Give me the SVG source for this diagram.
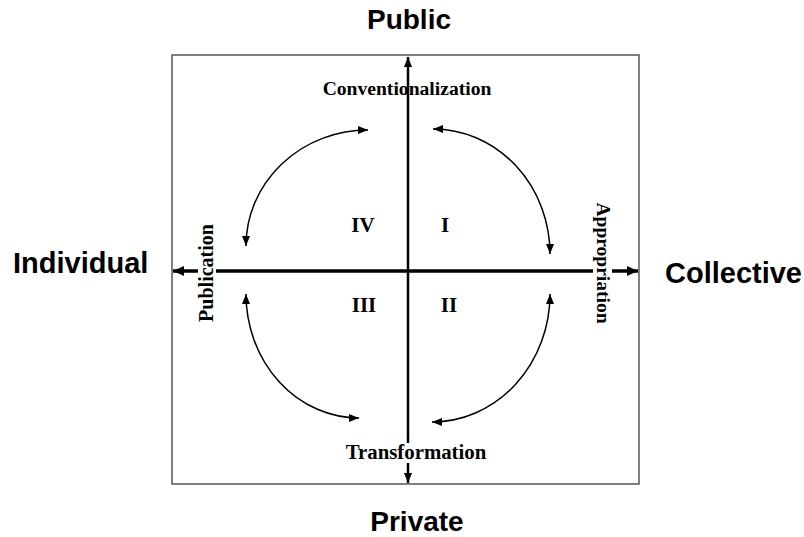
<svg xmlns="http://www.w3.org/2000/svg" width="804" height="537" viewBox="0 0 804 537">
  <style>
    .title { font-family: "Liberation Sans", Arial, sans-serif; font-weight: bold; fill: #000; }
    .lbl { font-family: "Liberation Serif", "Times New Roman", serif; font-weight: bold; fill: #000; }
    .axis { stroke: #000; fill: none; }
    .arc { stroke: #000; stroke-width: 1.5; fill: none; marker-start: url(#sm); marker-end: url(#sm); }
  </style>
  <defs>
    <marker id="sm" markerUnits="userSpaceOnUse" markerWidth="10" markerHeight="8" viewBox="0 0 10 8" refX="10" refY="4" orient="auto-start-reverse">
      <path d="M0,0 L10,4 L0,8 Z" fill="#000"/>
    </marker>
    <marker id="hv" markerUnits="userSpaceOnUse" markerWidth="11" markerHeight="10" viewBox="0 0 11 10" refX="11" refY="5" orient="auto">
      <path d="M0,0 L11,5 L0,10 Z" fill="#000"/>
    </marker>
    <marker id="vv" markerUnits="userSpaceOnUse" markerWidth="10" markerHeight="8" viewBox="0 0 10 8" refX="10" refY="4" orient="auto">
      <path d="M0,0 L10,4 L0,8 Z" fill="#000"/>
    </marker>
  </defs>
  <rect width="804" height="537" fill="#fff"/>

  <g id="frame">
    <rect x="172" y="55" width="467" height="429" fill="none" stroke="#555" stroke-width="1.5"/>
  </g>

  <g id="connectors">
    <!-- vertical axis -->
    <path class="axis" stroke-width="2.5" d="M408,443 L408,57" marker-end="url(#vv)"/>
    <path class="axis" stroke-width="2.5" d="M408,463 L408,483" marker-end="url(#vv)"/>
    <!-- horizontal axis -->
    <path class="axis" stroke-width="3.5" d="M593,271 L216,271"/>
    <path class="axis" stroke-width="3.5" d="M198,271 L173,271" marker-end="url(#hv)"/>
    <path class="axis" stroke-width="3.5" d="M612,271 L638,271" marker-end="url(#hv)"/>
    <!-- cycle arcs -->
    <path class="arc" d="M246,246 A122,116 0 0 1 368,130"/>
    <path class="arc" d="M433,129 A117,125 0 0 1 550,254"/>
    <path class="arc" d="M550,294 A118,128 0 0 1 432,422"/>
    <path class="arc" d="M359,418 A113,124 0 0 1 246,294"/>
  </g>

  <g id="public"><text class="title" x="409" y="29" font-size="28" text-anchor="middle">Public</text></g>
  <g id="private"><text class="title" x="417" y="531" font-size="28" text-anchor="middle">Private</text></g>
  <g id="individual"><text class="title" x="13" y="273" font-size="29">Individual</text></g>
  <g id="collective"><text class="title" x="665" y="283" font-size="29">Collective</text></g>

  <g id="conventionalization"><text class="lbl" x="407" y="95" font-size="19.6" text-anchor="middle">Conventionalization</text></g>
  <g id="transformation"><text class="lbl" x="416" y="459" font-size="20.8" text-anchor="middle">Transformation</text></g>
  <g id="publication"><text class="lbl" font-size="20" text-anchor="middle" transform="translate(213,273) rotate(-90)">Publication</text></g>
  <g id="appropriation"><text class="lbl" font-size="19.5" text-anchor="middle" transform="translate(597,263) rotate(90)">Appropriation</text></g>

  <g id="q4"><text class="lbl" x="363" y="232" font-size="21" text-anchor="middle">IV</text></g>
  <g id="q1"><text class="lbl" x="445" y="232" font-size="21" text-anchor="middle">I</text></g>
  <g id="q3"><text class="lbl" x="364" y="312" font-size="21" text-anchor="middle">III</text></g>
  <g id="q2"><text class="lbl" x="449" y="312" font-size="21" text-anchor="middle">II</text></g>
</svg>
